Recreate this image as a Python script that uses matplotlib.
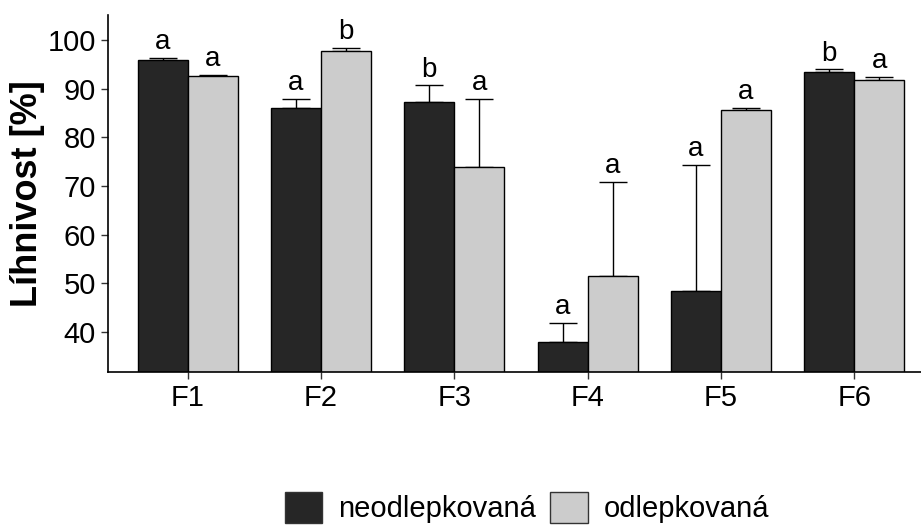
import numpy as np
import matplotlib.pyplot as plt
from matplotlib.patches import Patch

plt.rcParams['font.family'] = ['Liberation Sans', 'DejaVu Sans']

kategorie = ['F1', 'F2', 'F3', 'F4', 'F5', 'F6']
skupiny = ['neodlepkovaná', 'odlepkovaná']
barvy = ['#262626', '#cccccc']

neodl = np.array([96.0, 86.0, 87.2, 37.9, 48.4, 93.5])
neodl_sd = np.array([0.3, 1.9, 3.5, 4.0, 25.9, 0.5])
odl = np.array([92.6, 97.8, 74.0, 51.5, 85.7, 91.8])
odl_sd = np.array([0.2, 0.6, 13.9, 19.4, 0.3, 0.7])

pismena_neodl = ['a', 'a', 'b', 'a', 'a', 'b']
pismena_odl = ['a', 'b', 'a', 'a', 'a', 'a']

fig = plt.figure(figsize=(9.21, 5.27), dpi=100)
ax = fig.add_axes([107.7 / 921, 0.2947, 1 - 107.7 / 921, 0.9715 - 0.2947])

x = np.arange(1, len(kategorie) + 1)
w = 0.375
data = [(neodl, neodl_sd, pismena_neodl), (odl, odl_sd, pismena_odl)]
for i, (vals, sd, pism) in enumerate(data):
    pos = x + (i - 0.5) * w
    ax.bar(pos, vals, width=w, color=barvy[i], edgecolor='black',
           linewidth=1.0, zorder=2)
    ax.errorbar(pos, vals, yerr=[np.zeros_like(sd), sd], fmt='none',
                ecolor='black', elinewidth=1.0, capsize=10, capthick=1.0,
                zorder=1)
    for p, v, s, t in zip(pos, vals, sd, pism):
        ax.text(p, v + s + 0.6, t, ha='center', va='bottom', fontsize=20)

ax.set_xlim(0.4, 6.501)
ax.set_ylim(31.8, 105.2)
ax.set_xticks(x)
ax.set_xticklabels(kategorie)
ax.set_yticks(np.arange(40, 101, 10))
ax.tick_params(axis='both', labelsize=21, length=5, width=1.0, color='#333333')
ax.tick_params(axis='x', pad=4)
ax.set_ylabel('Líhnivost [%]', fontsize=26, fontweight='bold', labelpad=2)
for s in ['top', 'right']:
    ax.spines[s].set_visible(False)
for s in ['left', 'bottom']:
    ax.spines[s].set_linewidth(1.2)

handles = [Patch(facecolor=barvy[i], edgecolor='#333333', label=skupiny[i])
           for i in range(2)]
fig.legend(handles=handles, loc='center', bbox_to_anchor=(527 / 921, 0.037),
           ncol=2, frameon=False, fontsize=21, handlelength=1.27,
           handleheight=1.27, handletextpad=0.55, columnspacing=0.5,
           borderaxespad=0)

fig.savefig('out.png', dpi=100)
